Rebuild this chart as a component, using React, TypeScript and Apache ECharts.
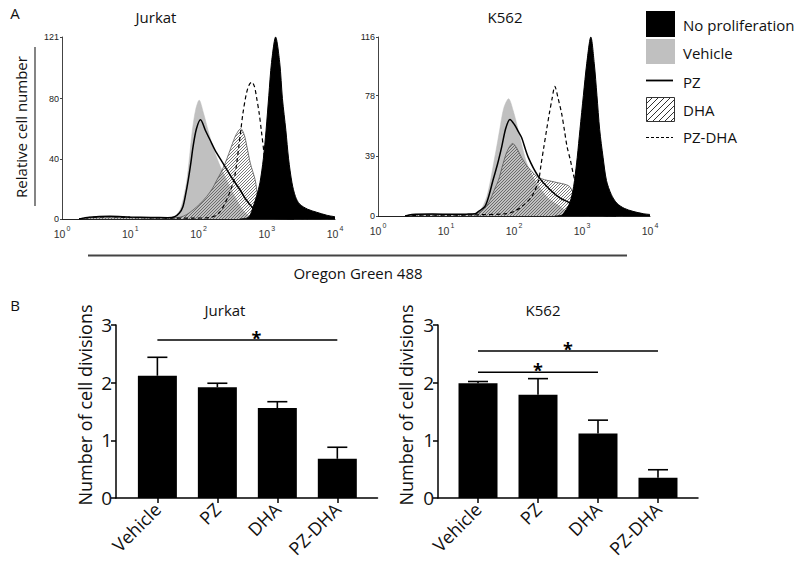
import React, { useEffect, useRef } from "react";
import * as echarts from "echarts";

// ---------- Panel A: flow-cytometry histograms (x = log10 of fluorescence) ----------
const decades = [0, 1, 2, 3, 4];
const jurkatYTicks = [0, 40, 80, 121];
const k562YTicks = [0, 39, 78, 116];

const jurkatNoProlif = [[2.6,0],[2.7,0.5],[2.75,2],[2.8,8],[2.85,15],[2.9,24],[2.95,40],[2.99,59],[3.03,82],[3.07,104],[3.13,121],[3.19,104],[3.23,80],[3.28,59],[3.32,40],[3.37,24],[3.42,15],[3.48,10],[3.6,6.5],[3.73,4.5],[3.88,2.5],[4.0,1.5]];
const jurkatVehicle = [[0.25,0],[0.4,1],[0.7,1.6],[1.0,1.2],[1.3,0.9],[1.55,0.8],[1.63,1.2],[1.68,3],[1.73,6],[1.78,14],[1.83,26],[1.87,42],[1.91,59],[1.96,73],[2.01,79],[2.07,71],[2.14,59],[2.21,48],[2.3,37],[2.41,26],[2.53,15],[2.65,6],[2.73,2.5],[2.8,1],[3.0,0.5],[3.3,0]];
const jurkatPZ = [[0.25,0],[0.4,1.2],[0.7,1.8],[1.0,1.3],[1.3,1],[1.55,0.9],[1.65,1.5],[1.72,4],[1.77,8],[1.81,16],[1.85,26],[1.89,38],[1.92,48],[1.97,60],[2.03,66],[2.1,59],[2.17,52.5],[2.24,46],[2.36,37],[2.48,28],[2.61,19.3],[2.7,12.6],[2.78,8.2],[2.85,3.8],[2.92,1.5],[3.1,0.5],[3.4,0]];
const jurkatDHA = [[0.25,0],[0.4,0.8],[0.7,1.2],[1.0,1],[1.3,0.8],[1.6,0.8],[1.73,1.2],[1.83,3],[1.92,6],[2.02,10],[2.12,15],[2.2,20],[2.27,26],[2.33,31],[2.39,37],[2.44,43],[2.48,48],[2.55,56],[2.62,60],[2.67,56],[2.71,48],[2.76,37],[2.83,26],[2.87,15],[2.92,8],[3.0,4],[3.15,2],[3.4,1],[3.7,0.5],[3.9,0]];
const jurkatPZDHA = [[0.25,0],[0.4,1],[0.7,1.5],[1.0,1],[1.3,0.8],[1.6,0.6],[1.9,0.6],[2.17,1],[2.3,4],[2.39,10.6],[2.46,18],[2.52,26],[2.56,37],[2.59,48],[2.62,59],[2.65,70],[2.7,83],[2.74,89],[2.78,91],[2.82,88],[2.85,81],[2.89,70],[2.92,59],[2.97,40],[3.02,22],[3.1,10],[3.2,4],[3.4,1],[3.6,0]];

const k562NoProlif = [[2.6,0],[2.7,0.5],[2.75,3],[2.82,8.4],[2.86,15],[2.89,23],[2.93,38],[2.97,56],[3.02,78],[3.07,99],[3.13,116],[3.18,99],[3.22,78],[3.26,56],[3.31,38],[3.36,23],[3.43,14],[3.51,8.4],[3.62,5],[3.75,3],[3.9,1.5],[4.0,1]];
const k562Vehicle = [[0.4,0],[0.5,0.8],[0.8,1.2],[1.1,1],[1.3,1],[1.45,1.5],[1.5,3],[1.55,7],[1.6,12.5],[1.65,22],[1.7,34],[1.75,46],[1.79,56],[1.85,70],[1.92,76],[1.99,68],[2.06,56],[2.12,45],[2.19,34],[2.31,23],[2.48,12.5],[2.58,9],[2.68,6],[2.78,3],[2.9,1],[3.1,0]];
const k562PZ = [[0.4,0],[0.5,1],[0.8,1.3],[1.1,1.1],[1.3,1.2],[1.43,1.5],[1.48,3],[1.57,6],[1.63,13],[1.69,23],[1.76,34],[1.82,45],[1.88,57],[1.94,62.6],[2.01,59],[2.06,55],[2.11,51],[2.21,38],[2.36,25.5],[2.53,17],[2.68,11.6],[2.82,8.4],[2.95,4],[3.1,1.5],[3.3,0.5],[3.5,0]];
const k562DHA = [[0.4,0],[0.5,0.8],[0.8,1],[1.1,1],[1.3,1],[1.45,1.5],[1.55,4],[1.62,8],[1.67,12.5],[1.72,18],[1.77,23],[1.84,34],[1.9,42],[1.98,47],[2.04,44],[2.11,38],[2.18,33],[2.24,30],[2.3,27],[2.36,25],[2.45,23.5],[2.55,22.5],[2.65,21.5],[2.75,20.5],[2.82,19],[2.88,14],[2.95,7],[3.05,3],[3.3,1],[3.6,0]];
const k562PZDHA = [[0.4,0],[0.6,0.5],[1.0,0.5],[1.5,0.8],[1.89,1.5],[2.0,3],[2.11,6],[2.26,12.5],[2.36,23],[2.4,34],[2.44,45],[2.48,56],[2.52,66.5],[2.56,76],[2.6,84],[2.65,76],[2.7,66.5],[2.74,56],[2.78,45],[2.83,36],[2.87,27.6],[2.95,14],[3.05,5],[3.2,1.5],[3.4,0]];

const legendNames = ["No proliferation", "Vehicle", "PZ", "DHA", "PZ-DHA"];

// ---------- Panel B: number of cell divisions ----------
const categories = ["Vehicle", "PZ", "DHA", "PZ-DHA"];
const barYTicks = [0, 1, 2, 3];
const jurkatMeans = [2.12, 1.92, 1.56, 0.68];
const jurkatSEM = [0.32, 0.07, 0.11, 0.2];
const k562Means = [1.99, 1.79, 1.12, 0.35];
const k562SEM = [0.03, 0.28, 0.23, 0.14];
// [from category, to category, y of bracket, x of star]
const jurkatSig = [[0, 3, 2.74, 1.65]];
const k562Sig = [[0, 3, 2.55, 1.5], [0, 2, 2.18, 1.0]];

const SANS = "'Open Sans', 'Noto Sans', sans-serif";
const SMALL = "'Liberation Sans', Arial, sans-serif";

function makeHatch(size: number, color: string, lw: number) {
  const c = document.createElement("canvas");
  c.width = size;
  c.height = size;
  const ctx = c.getContext("2d")!;
  ctx.strokeStyle = color;
  ctx.lineWidth = lw;
  ctx.beginPath();
  ctx.moveTo(0, size);
  ctx.lineTo(size, 0);
  ctx.moveTo(-size / 2, size / 2);
  ctx.lineTo(size / 2, -size / 2);
  ctx.moveTo(size / 2, size * 1.5);
  ctx.lineTo(size * 1.5, size / 2);
  ctx.stroke();
  return { image: c.toDataURL(), repeat: "repeat", imageWidth: size, imageHeight: size };
}

export default function App() {
  const ref = useRef<HTMLDivElement>(null);
  useEffect(() => {
    if (!ref.current) return;
    const chart = echarts.init(ref.current, undefined, { renderer: "svg" });
    const hatch = makeHatch(3, "#555", 0.8);
    const hatchLegend = makeHatch(6, "#333", 1);

    const histX = (gi: number) => ({
      type: "value",
      gridIndex: gi,
      min: 0,
      max: 4,
      interval: 1,
      axisLine: { onZero: false, lineStyle: { color: "#222", width: 1 } },
      axisTick: { show: false },
      splitLine: { show: false },
      axisLabel: {
        margin: 6,
        formatter: (v: number) => `{b|10}{s|${decades[Math.round(v)]}}`,
        rich: {
          b: { fontSize: 10.5, fontFamily: SMALL, color: "#333", lineHeight: 14, verticalAlign: "bottom" },
          s: { fontSize: 7, fontFamily: SMALL, color: "#333", lineHeight: 8, verticalAlign: "top", padding: [0, 0, 0, 1] },
        },
      },
    });
    const histY = (gi: number, ticks: number[]) => ({
      type: "value",
      gridIndex: gi,
      min: 0,
      max: ticks[ticks.length - 1],
      axisLine: { show: true, onZero: false, lineStyle: { color: "#444", width: 1 } },
      axisTick: { show: true, length: 2, customValues: ticks, lineStyle: { color: "#444" } },
      splitLine: { show: false },
      axisLabel: { customValues: ticks, fontSize: 9, fontFamily: SMALL, color: "#222", margin: 3 },
    });
    const barX = (gi: number, min: number, max: number) => ({
      type: "value",
      gridIndex: gi,
      min,
      max,
      axisLine: { onZero: false, lineStyle: { color: "#000", width: 1.5 } },
      axisTick: { show: true, length: 5, customValues: [0, 1, 2, 3], lineStyle: { color: "#000", width: 1.5 } },
      splitLine: { show: false },
      axisLabel: {
        customValues: [0, 1, 2, 3],
        formatter: (v: number) => categories[Math.round(v)],
        rotate: 45,
        fontSize: 18,
        fontFamily: SANS,
        color: "#111",
        margin: 8,
      },
    });
    const barY = (gi: number) => ({
      type: "value",
      gridIndex: gi,
      min: 0,
      max: 3,
      axisLine: { show: true, onZero: false, lineStyle: { color: "#000", width: 1.5 } },
      axisTick: { show: true, length: 5, customValues: barYTicks, lineStyle: { color: "#000", width: 1.5 } },
      splitLine: { show: false },
      axisLabel: { customValues: barYTicks, fontSize: 19, fontFamily: SANS, color: "#111", margin: 4 },
    });

    const histSeries = (gi: number, noP: number[][], veh: number[][], pz: number[][], dha: number[][], pzdha: number[][]) => [
      {
        type: "line", xAxisIndex: gi, yAxisIndex: gi, data: veh, smooth: 0.3, showSymbol: false, z: 1,
        lineStyle: { width: 0.5, color: "#bdbdbd" }, areaStyle: { color: "#c0c0c0", opacity: 1 },
      },
      {
        type: "line", xAxisIndex: gi, yAxisIndex: gi, data: dha, smooth: 0.3, showSymbol: false, z: 2,
        lineStyle: { width: 0.8, color: "#555" }, areaStyle: { color: hatch, opacity: 1 },
      },
      {
        type: "line", xAxisIndex: gi, yAxisIndex: gi, data: pz, smooth: 0.3, showSymbol: false, z: 3,
        lineStyle: { width: 1.5, color: "#000" },
      },
      {
        type: "line", xAxisIndex: gi, yAxisIndex: gi, data: pzdha, smooth: 0.3, showSymbol: false, z: 4,
        lineStyle: { width: 1.2, color: "#000", type: [4, 3] },
      },
      {
        type: "line", xAxisIndex: gi, yAxisIndex: gi, data: noP, smooth: 0.3, showSymbol: false, z: 5,
        lineStyle: { width: 1, color: "#000" }, areaStyle: { color: "#000", opacity: 1 },
      },
    ];

    const barSeries = (gi: number, means: number[], sem: number[], sig: number[][]) => [
      {
        type: "bar", xAxisIndex: gi, yAxisIndex: gi, barWidth: 39, z: 2,
        data: means.map((m, i) => [i, m]),
        itemStyle: { color: "#000" },
      },
      {
        type: "custom", xAxisIndex: gi, yAxisIndex: gi, z: 3,
        data: means.map((m, i) => [i, m, m + sem[i]]),
        renderItem: (_p: any, api: any) => {
          const x = api.value(0);
          const p0 = api.coord([x, api.value(1)]);
          const p1 = api.coord([x, api.value(2)]);
          const st = { stroke: "#000", lineWidth: 1.6 };
          return {
            type: "group",
            children: [
              { type: "line", shape: { x1: p0[0], y1: p0[1], x2: p1[0], y2: p1[1] }, style: st },
              { type: "line", shape: { x1: p1[0] - 10, y1: p1[1], x2: p1[0] + 10, y2: p1[1] }, style: st },
            ],
          };
        },
      },
      {
        type: "custom", xAxisIndex: gi, yAxisIndex: gi, z: 3,
        data: sig,
        renderItem: (_p: any, api: any) => {
          const a = api.coord([api.value(0), api.value(2)]);
          const b = api.coord([api.value(1), api.value(2)]);
          const s = api.coord([api.value(3), api.value(2)]);
          return {
            type: "group",
            children: [
              { type: "line", shape: { x1: a[0], y1: a[1], x2: b[0], y2: b[1] }, style: { stroke: "#000", lineWidth: 1.5 } },
              {
                type: "text",
                style: {
                  text: "*", x: s[0], y: a[1] - 2, textAlign: "center", textVerticalAlign: "middle",
                  fontSize: 18, fontWeight: "bold", fontFamily: SANS, fill: "#000",
                },
              },
            ],
          };
        },
      },
    ];

    const txt = (text: string, x: number, y: number, size: number, extra: any = {}) => ({
      type: "text",
      x,
      y,
      ...extra,
      style: { text, fontSize: size, fontFamily: SANS, fill: "#111", textAlign: "center", textVerticalAlign: "middle", ...(extra.style || {}) },
    });

    const legendTextX = 683;
    const legendYs = [25, 53, 82, 110, 137];

    chart.setOption({
      animation: false,
      backgroundColor: "#fff",
      grid: [
        { left: 62, top: 37, width: 273, height: 182 },
        { left: 378, top: 37, width: 272, height: 179 },
        { left: 116, top: 325, width: 261.5, height: 173 },
        { left: 438, top: 325, width: 260, height: 173 },
      ],
      xAxis: [histX(0), histX(1), barX(2, -0.69, 3.67), barX(3, -0.667, 3.667)],
      yAxis: [histY(0, jurkatYTicks), histY(1, k562YTicks), barY(2), barY(3)],
      series: [
        ...histSeries(0, jurkatNoProlif, jurkatVehicle, jurkatPZ, jurkatDHA, jurkatPZDHA),
        ...histSeries(1, k562NoProlif, k562Vehicle, k562PZ, k562DHA, k562PZDHA),
        ...barSeries(2, jurkatMeans, jurkatSEM, jurkatSig),
        ...barSeries(3, k562Means, k562SEM, k562Sig),
      ],
      graphic: [
        txt("A", 15, 13, 15),
        txt("B", 15, 305, 15),
        txt("Jurkat", 156, 17, 15),
        txt("K562", 505, 17, 15),
        txt("Jurkat", 225, 310, 15),
        txt("K562", 543, 310, 15),
        txt("Relative cell number", 21, 127, 15, { rotation: Math.PI / 2 }),
        { type: "line", shape: { x1: 35, y1: 47, x2: 35, y2: 206 }, style: { stroke: "#333", lineWidth: 1.2 } },
        { type: "line", shape: { x1: 88, y1: 255.5, x2: 627, y2: 255.5 }, style: { stroke: "#444", lineWidth: 2 } },
        txt("Oregon Green 488", 358, 273, 15),
        txt("Number of cell divisions", 85, 405, 18, { rotation: Math.PI / 2 }),
        txt("Number of cell divisions", 406, 405, 18, { rotation: Math.PI / 2 }),
        // legend
        { type: "rect", shape: { x: 646, y: 11, width: 29, height: 26 }, style: { fill: "#000" } },
        { type: "rect", shape: { x: 646, y: 39, width: 29, height: 25 }, style: { fill: "#c0c0c0" } },
        { type: "line", shape: { x1: 646, y1: 80.5, x2: 673, y2: 80.5 }, style: { stroke: "#000", lineWidth: 1.8 } },
        { type: "rect", shape: { x: 646.5, y: 97.5, width: 28, height: 24 }, style: { fill: hatchLegend, stroke: "#333", lineWidth: 1 } },
        { type: "line", shape: { x1: 646, y1: 137.5, x2: 673, y2: 137.5 }, style: { stroke: "#000", lineWidth: 1.2, lineDash: [3, 2] } },
        ...legendNames.map((n, i) => txt(n, legendTextX, legendYs[i], 15, { style: { textAlign: "left" } })),
      ],
    });
    return () => chart.dispose();
  }, []);
  return <div ref={ref} style={{ position: "fixed", left: 0, top: 0, width: 800, height: 572 }} />;
}
